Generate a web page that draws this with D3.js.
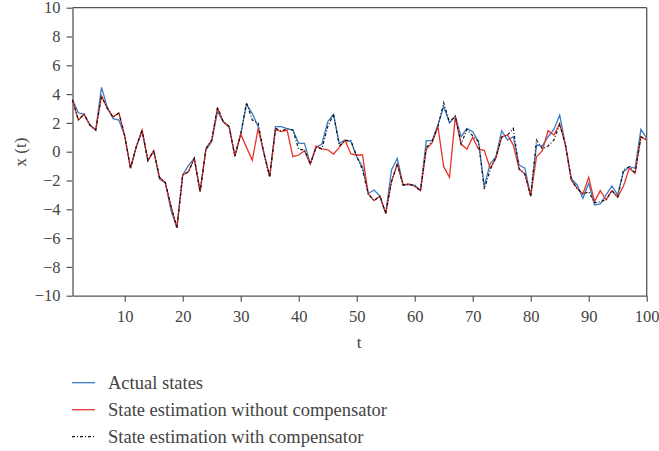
<!DOCTYPE html>
<html>
<head>
<meta charset="utf-8">
<script src="https://cdn.jsdelivr.net/npm/d3@7"></script>
<style>
body{margin:0;background:#fff;}
text{font-family:"Liberation Serif","DejaVu Serif",serif;fill:#444;}
</style>
</head>
<body>
<div id="chart"></div>
<script>
// time steps 1..100
var steps = d3.range(1, 101);

var actual = [3.6,2.7,2.6,1.85,1.5,4.47,3.1,2.3,2.2,1.1,
 -1.15,0.35,1.4,-0.62,0.07,-1.9,-2.15,-4.1,-5.28,-1.62,
 -0.95,-0.46,-2.78,0.12,0.7,2.8,2.08,1.74,-0.3,1.2,
 3.3,2.65,1.74,-0.1,-1.74,1.74,1.74,1.6,1.5,0.58,
 0.58,-0.85,0.3,0.53,2.08,2.6,0.58,0.81,0.7,-0.35,
 -1.04,-2.9,-2.66,-3.08,-4.28,-1.27,-0.46,-2.31,-2.28,-2.32,
 -2.7,0.77,0.77,1.85,3.13,2.0,2.48,1.04,1.62,1.39,
 0.7,-2.38,-0.85,-0.35,1.46,0.81,1.04,-0.92,-1.15,-3.08,
 0.46,0.4,1.04,1.55,2.55,0.46,-1.85,-2.31,-3.24,-2.2,
 -3.7,-3.63,-3.0,-2.38,-3.0,-1.39,-1.04,-1.15,1.55,0.93];

var noComp = [3.6,2.2,2.6,1.85,1.5,3.87,3.0,2.4,2.7,1.1,
 -1.15,0.35,1.5,-0.62,0.07,-1.78,-2.15,-3.8,-5.28,-1.62,
 -1.39,-0.46,-2.78,0.2,0.81,3.0,2.08,1.74,-0.3,1.23,
 0.3,-0.6,1.6,-0.1,-1.74,1.55,1.4,1.5,-0.35,-0.23,
 0.07,-0.85,0.4,0.2,0.13,-0.16,0.3,0.8,-0.16,-0.23,
 -0.23,-2.94,-3.4,-3.08,-4.28,-2.08,-0.85,-2.31,-2.24,-2.4,
 -2.7,0.17,0.63,1.74,-1.04,-1.78,2.4,0.53,0.17,1.0,
 0.17,0.1,-1.15,-0.46,1.04,1.16,0.46,-1.2,-1.55,-3.08,
 -0.35,0.07,1.46,1.16,1.92,0.46,-1.97,-2.55,-2.94,-1.78,
 -3.47,-2.7,-3.34,-2.7,-3.15,-2.38,-1.15,-1.5,1.04,0.81];

var withComp = [3.6,2.2,2.6,1.85,1.5,3.87,3.0,2.4,2.7,1.1,
 -1.15,0.35,1.5,-0.62,0.07,-1.78,-2.15,-3.8,-5.28,-1.62,
 -1.39,-0.46,-2.78,0.2,0.81,3.1,2.08,1.74,-0.3,1.2,
 3.4,2.2,2.0,-0.1,-1.74,1.62,1.44,1.6,1.5,0.17,
 0.12,-0.85,0.3,0.2,1.74,2.6,0.4,0.77,0.77,-0.3,
 -1.27,-2.94,-3.4,-3.08,-4.28,-2.08,-0.85,-2.31,-2.24,-2.4,
 -2.7,0.3,0.7,1.74,3.4,2.05,2.48,0.53,1.55,1.1,
 0.7,-2.6,-1.27,-0.4,1.0,1.16,1.62,-1.2,-1.55,-3.08,
 0.81,0.2,0.4,0.81,1.92,0.46,-1.97,-2.55,-2.94,-2.78,
 -3.54,-3.47,-3.34,-2.7,-3.15,-1.27,-1.04,-1.5,1.04,0.81];

var xTicks = [10,20,30,40,50,60,70,80,90,100];
var yTicks = [-10,-8,-6,-4,-2,0,2,4,6,8,10];
var legendLabels = ["Actual states","State estimation without compensator","State estimation with compensator"];

var width = 659, height = 451;
var axisCol = "#555";

var svg = d3.select("#chart").append("svg")
    .attr("width", width)
    .attr("height", height);

var x = d3.scaleLinear().domain([1,100]).range([72.5,646.7]);
var y = d3.scaleLinear().domain([-10,10]).range([295.7,7.7]);

// frame top + right
svg.append("line").attr("x1",72.5).attr("x2",646.7).attr("y1",7.7).attr("y2",7.7)
    .attr("stroke",axisCol).attr("stroke-width",1.3);
svg.append("line").attr("x1",646.7).attr("x2",646.7).attr("y1",7.7).attr("y2",295.7)
    .attr("stroke",axisCol).attr("stroke-width",1.3);

var xAxis = svg.append("g")
    .attr("transform","translate(0,295.7)")
    .call(d3.axisBottom(x).tickValues(xTicks).tickSize(6).tickPadding(9).tickSizeOuter(0));
var yAxis = svg.append("g")
    .attr("transform","translate(72.5,0)")
    .call(d3.axisLeft(y).tickValues(yTicks).tickSize(6).tickPadding(6).tickSizeOuter(0));

[xAxis,yAxis].forEach(function(g){
  g.select(".domain").attr("stroke",axisCol).attr("stroke-width",1.3);
  g.selectAll(".tick line").attr("stroke",axisCol).attr("stroke-width",1.2);
  g.selectAll(".tick text").attr("fill","#444")
    .style("font-size","16.5px").style("font-family","Liberation Serif, serif");
});

svg.append("text").attr("x",359).attr("y",348).attr("text-anchor","middle")
    .style("font-size","17px").text("t");
svg.append("text").attr("transform","translate(26,152) rotate(-90)")
    .attr("text-anchor","middle").style("font-size","17px").text("x (t)");

var line = d3.line()
    .x(function(d,i){ return x(steps[i]); })
    .y(function(d){ return y(d); });

svg.append("path").datum(actual).attr("d",line)
    .attr("fill","none").attr("stroke","#3a7cc6").attr("stroke-width",1.3);
svg.append("path").datum(noComp).attr("d",line)
    .attr("fill","none").attr("stroke","#e8352a").attr("stroke-width",1.3);
svg.append("path").datum(withComp).attr("d",line)
    .attr("fill","none").attr("stroke","#111").attr("stroke-width",1.2)
    .attr("stroke-dasharray","3,2,1,2");

// legend
var legCols = ["#3a7cc6","#e8352a","#111"];
var leg = svg.selectAll(".leg").data(legendLabels).enter().append("g")
    .attr("class","leg")
    .attr("transform",function(d,i){ return "translate(72,"+(382.7+i*27)+")"; });
leg.append("line").attr("x1",0).attr("x2",23).attr("y1",0).attr("y2",0)
    .attr("stroke",function(d,i){ return legCols[i]; })
    .attr("stroke-width",1.3)
    .attr("stroke-dasharray",function(d,i){ return i==2 ? "3,2,1,2" : null; });
leg.append("text").attr("x",36).attr("y",6)
    .style("font-size","18.5px").text(function(d){ return d; });
</script>
</body>
</html>
